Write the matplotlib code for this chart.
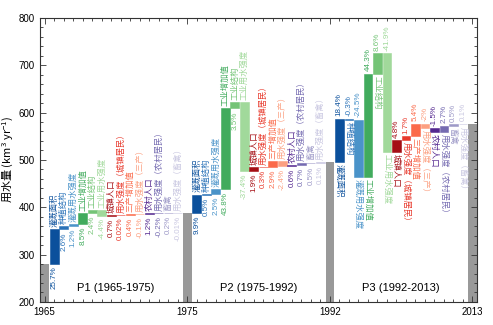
import numpy as np
import matplotlib.pyplot as plt
from matplotlib.ticker import MultipleLocator, FixedLocator

plt.rcParams['font.family'] = ['Liberation Sans', 'Noto Sans CJK SC']
plt.rcParams['mathtext.default'] = 'regular'
plt.rcParams['axes.unicode_minus'] = False

# water use at 1965 (km3/yr); later totals follow from the contributions
total_1965 = 281.0
years = ['1965', '1975', '1992', '2013']
periods = ['P1 (1965-1975)', 'P2 (1975-1992)', 'P3 (1992-2013)']

factors = ['灌溉面积', '种植结构', '灌溉用水强度',
           '工业增加值', '工业结构', '工业用水强度',
           '城镇人口', '用水强度（城镇居民）', '三产增加值', '用水强度（三产）',
           '农村人口', '用水强度（农村居民）', '畜禽', '用水强度（畜禽）']

colors = ['#0b509c', '#2a72b8', '#4a93c9',
          '#41ab5d', '#74c476', '#a1d99b',
          '#a50f15', '#e8392c', '#fb6a4a', '#fca081',
          '#54278f', '#756bb1', '#9e9ac8', '#c9c7e1']

# contribution of each factor, % of the water use at the start of the period
p1 = [25.7, 2.6, 1.2, 8.5, 2.4, -4.4, 0.7, 0.02, 0.4, -0.1, 1.2, -0.2, 0.2, -0.01]
p2 = [9.9, 0.5, 2.5, 43.8, 3.5, -37.4, 1.9, 0.3, 2.9, -2.4, 0.6, 0.7, 0.5, 0.1]
p3 = [18.4, -0.3, -24.5, 44.3, 8.6, -41.9, 4.8, 1.7, 5.4, -2, -1.5, 2.7, 0.5, 0.1]

fig = plt.figure(figsize=(4.93, 3.25), dpi=100)
ax = fig.add_axes([0.081, 0.071, 0.887, 0.874])

gray = '#999999'
cjk = ['Noto Sans CJK SC']
w = 0.92
x = 0
total = total_1965
for k, pct in enumerate([p1, p2, p3]):
    ax.bar(x, total, width=w, bottom=0, color=gray, linewidth=0)
    start = total
    level = total
    for i, p in enumerate(pct):
        x += 1
        d = start * p / 100.0
        lo, hi = min(level, level + d), max(level, level + d)
        ax.bar(x, hi - lo, width=w, bottom=lo, color=colors[i],
               edgecolor=colors[i], linewidth=0.4)
        lab = '%g%%' % p
        if k < 2:
            ax.annotate(factors[i], (x, hi), xytext=(0, 1.5), textcoords='offset points',
                        rotation=90, ha='center', va='bottom', fontsize=6,
                        color=colors[i], family=cjk)
            ax.annotate(lab, (x, lo), xytext=(0, -2), textcoords='offset points',
                        rotation=90, ha='center', va='top', fontsize=5.8,
                        color=colors[i])
        else:
            ax.annotate(lab, (x, hi), xytext=(0, 2), textcoords='offset points',
                        rotation=90, ha='center', va='bottom', fontsize=5.8,
                        color=colors[i])
            ax.annotate(factors[i], (x, lo), xytext=(0, -1.5), textcoords='offset points',
                        rotation=270, ha='center', va='top', fontsize=6,
                        color=colors[i], family=cjk)
        level += d
    total = level
    ax.text(x - 6.5, 229, periods[k], ha='center', va='center', fontsize=8)
    x += 1
ax.bar(x, total, width=w, bottom=0, color=gray, linewidth=0)

ax.set_xlim(-0.5, 45.5)
ax.set_ylim(200, 800)
ax.xaxis.set_major_locator(FixedLocator([0, 15, 30, 45]))
ax.set_xticklabels(years)
ax.xaxis.set_minor_locator(MultipleLocator(1))
ax.yaxis.set_major_locator(MultipleLocator(100))
ax.yaxis.set_minor_locator(MultipleLocator(20))
ax.tick_params(which='both', direction='in', top=True, right=True,
               labelsize=7, width=0.6, color='#333333')
ax.tick_params(which='major', length=4)
ax.tick_params(which='minor', length=2.5)
for s in ax.spines.values():
    s.set_linewidth(0.8)
    s.set_color('#333333')
ax.set_ylabel('用水量 (km$^{3}$ yr$^{-1}$)', fontsize=8, labelpad=2, family=cjk)

plt.savefig('out.png', dpi=100)
